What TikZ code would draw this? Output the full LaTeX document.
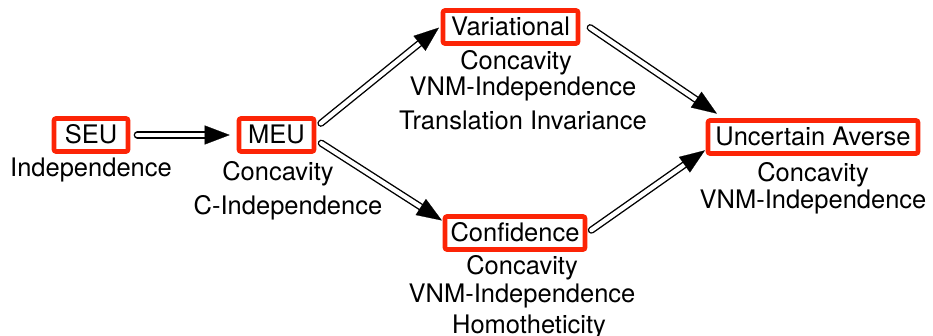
\documentclass[tikz,border=0pt]{standalone}
\usepackage{fontspec}
\setmainfont{TeX Gyre Heros}
\usetikzlibrary{arrows.meta,calc}
\definecolor{boxred}{RGB}{252,36,6}
\newcommand\dblconn[4]{%
  \draw[shaft, shorten <=#3, shorten >=#4+16pt] (#1) -- (#2);
  \draw[tipline, shorten <=#3+8pt, shorten >=#4] (#1) -- (#2);}
\begin{document}
\begin{tikzpicture}[x=1pt,y=-1pt,
  box/.style={draw=boxred, line width=4.6pt, rounded corners=2pt, inner sep=0pt,
    minimum height=33pt, text height=18pt, text depth=0pt,
    font=\fontsize{25.5}{30}\selectfont},
  lbl/.style={anchor=base, inner sep=0pt, font=\fontsize{25.5}{30}\selectfont},
  shaft/.style={double=white, double distance=4.4pt, line width=1.4pt, line cap=round},
  tipline/.style={draw=white, line width=0.2pt,
    -{Triangle[length=25pt,width=19pt,color=black]}}]
\useasboundingbox (0,0) rectangle (933,336);

% boxes
\node[box, minimum width=74pt] (seu) at (91,135) {SEU};
\node[box, minimum width=75pt] (meu) at (276.5,135) {MEU};
\node[box, minimum width=135pt] (var) at (510.5,27) {Variational};
\node[box, minimum width=140pt] (conf) at (515,233) {Confidence};
\node[box, minimum width=210pt] (ua) at (813,137) {Uncertain Averse};

% labels
\node[lbl] (l1) at (91,177) {Independence};
\node[lbl] (l2) at (278,181) {Concavity};
\node[lbl] (l3) at (288,215) {C-Independence};
\node[lbl] (l4) at (516,70) {Concavity};
\node[lbl] (l5) at (523,96) {VNM-Independence};
\node[lbl] (l6) at (523,130) {Translation Invariance};
\node[lbl] (l7) at (522,275) {Concavity};
\node[lbl] (l8) at (522,302) {VNM-Independence};
\node[lbl] (l9) at (529,333) {Homotheticity};
\node[lbl] (l10) at (813,182) {Concavity};
\node[lbl] (l11) at (813,209) {VNM-Independence};

% connectors
\dblconn{seu.east}{meu.west}{7pt}{7pt}
\dblconn{$(meu.east)+(0,-8)$}{$(var.west)+(-1,0)$}{6pt}{1pt}
\dblconn{$(meu.east)+(0,5)$}{$(conf.west)+(0,-12)$}{6pt}{1pt}
\dblconn{$(var.east)+(0,-6)$}{$(ua.north west)+(12,-4)$}{12pt}{1pt}
\dblconn{conf.east}{$(ua.south west)+(0,-6)$}{5pt}{1pt}
\end{tikzpicture}
\end{document}
